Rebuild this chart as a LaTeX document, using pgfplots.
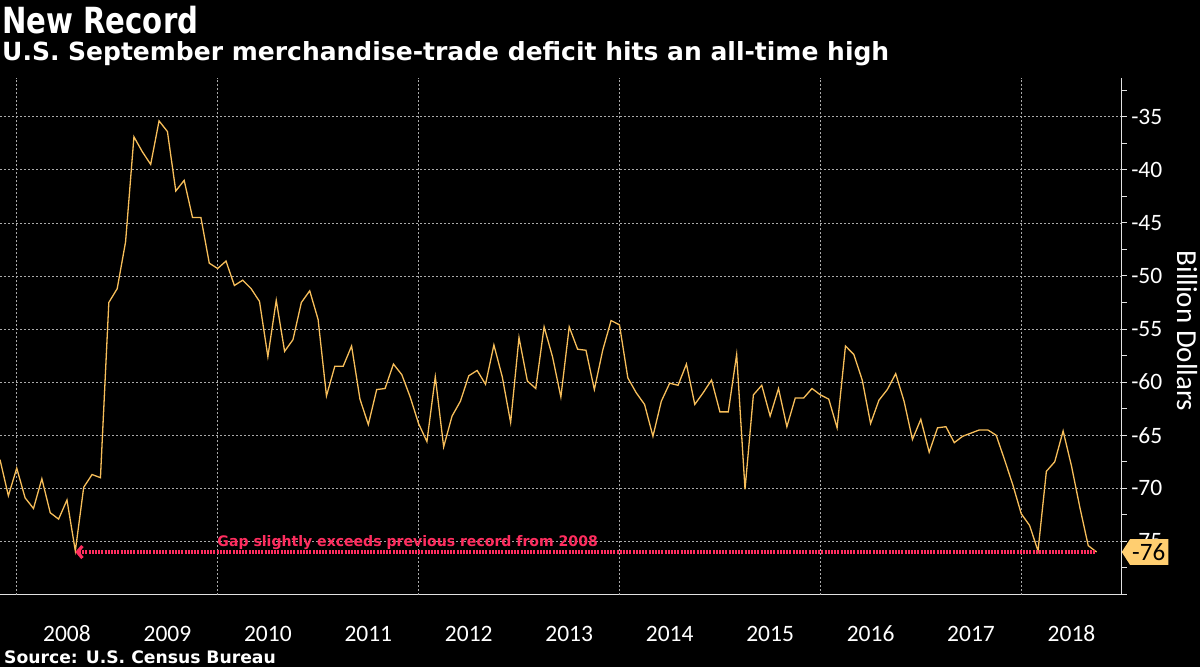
\documentclass[border=0pt]{standalone}
\usepackage{fontspec}
\usepackage{graphicx}
\usepackage{pgfplots}
\pgfplotsset{compat=1.18}
\usetikzlibrary{arrows.meta}
\setmainfont{DejaVu Sans}
\newfontfamily\tickfont{Carlito}
\definecolor{linecol}{RGB}{247,190,90}
\definecolor{redcol}{RGB}{255,45,95}
\definecolor{tagcol}{RGB}{255,206,112}
\definecolor{gridcol}{RGB}{170,170,170}
\definecolor{sepcol}{RGB}{225,225,225}
\begin{document}
\begin{tikzpicture}[x=1pt,y=1pt]
\useasboundingbox (0,0) rectangle (1200,667);
\fill[black] (0,0) rectangle (1200,667);
\begin{axis}[
  at={(0pt,72.5pt)}, anchor=south west,
  scale only axis, width=1121.7pt, height=516.5pt,
  xmin=-2, xmax=132, ymin=-80, ymax=-31.36,
  axis x line*=bottom, axis y line*=right,
  axis line style={sepcol, line width=1.2pt},
  xtick={6,18,...,126},
  xticklabels={2008,2009,2010,2011,2012,2013,2014,2015,2016,2017,2018},
  x tick style={draw=none},
  xticklabel style={font=\tickfont\fontsize{23.5}{23.5}\selectfont, text=white, anchor=base, yshift=-42pt},
  extra x ticks={0,24,...,120},
  extra x tick labels={},
  extra x tick style={grid=major, x tick style={draw=none}},
  ytick={-75,-70,...,-35},
  minor ytick={-80,-77.5,-72.5,-67.5,-62.5,-57.5,-52.5,-47.5,-42.5,-37.5,-32.5},
  tick align=outside,
  major tick length=5pt, minor tick length=5pt,
  y tick style={sepcol, line width=1pt},
  ymajorgrids,
  grid style={gridcol, line width=0.6pt, dash pattern=on 2pt off 2pt},
  yticklabel style={font=\tickfont\fontsize{23.5}{23.5}\selectfont, text=white, xshift=1pt},
  /pgf/number format/assume math mode=true,
]
\pgfplotsinvokeforeach{0,12,...,120}{\draw[sepcol, line width=0.8pt] (axis cs:#1,-80) -- ++(0pt,-53pt);}
\addplot[linecol, line width=1.3pt, no marks] coordinates {
(-2,-67.3) (-1,-70.7) (0,-68.1) (1,-70.9) (2,-71.9) (3,-69.1) (4,-72.3) (5,-72.9)
(6,-71.1) (7,-75.9) (8,-69.9) (9,-68.7) (10,-69.0) (11,-52.5) (12,-51.2) (13,-46.8)
(14,-36.9) (15,-38.3) (16,-39.5) (17,-35.4) (18,-36.4) (19,-42.0) (20,-41.0) (21,-44.5)
(22,-44.5) (23,-48.8) (24,-49.3) (25,-48.6) (26,-50.9) (27,-50.4) (28,-51.2) (29,-52.4)
(30,-57.6) (31,-52.3) (32,-57.1) (33,-56.0) (34,-52.5) (35,-51.4) (36,-54.1) (37,-61.3)
(38,-58.5) (39,-58.5) (40,-56.6) (41,-61.6) (42,-64.0) (43,-60.7) (44,-60.6) (45,-58.3)
(46,-59.3) (47,-61.4) (48,-63.9) (49,-65.6) (50,-59.5) (51,-66.1) (52,-63.2) (53,-61.8)
(54,-59.4) (55,-58.9) (56,-60.2) (57,-56.5) (58,-59.5) (59,-63.8) (60,-55.8) (61,-59.9)
(62,-60.6) (63,-54.8) (64,-57.6) (65,-61.4) (66,-54.8) (67,-56.9) (68,-57.0) (69,-60.7)
(70,-57.0) (71,-54.2) (72,-54.6) (73,-59.6) (74,-61.0) (75,-62.1) (76,-65.1) (77,-61.8)
(78,-60.1) (79,-60.3) (80,-58.3) (81,-62.1) (82,-61.0) (83,-59.8) (84,-62.8) (85,-62.8)
(86,-57.4) (87,-70.1) (88,-61.2) (89,-60.3) (90,-63.2) (91,-60.6) (92,-64.2) (93,-61.5)
(94,-61.5) (95,-60.6) (96,-61.2) (97,-61.6) (98,-64.3) (99,-56.6) (100,-57.4) (101,-59.8)
(102,-63.9) (103,-61.7) (104,-60.7) (105,-59.2) (106,-61.8) (107,-65.4) (108,-63.5) (109,-66.6)
(110,-64.3) (111,-64.2) (112,-65.7) (113,-65.1) (114,-64.8) (115,-64.5) (116,-64.5) (117,-65.0)
(118,-67.3) (119,-69.7) (120,-72.4) (121,-73.5) (122,-75.9) (123,-68.4) (124,-67.5) (125,-64.6)
(126,-67.9) (127,-71.8) (128,-75.4) (129,-76.0)
};
\addplot[redcol, line width=3.2pt, dash pattern=on 2pt off 1.2pt, no marks, {Straight Barb[length=5pt,width=12pt]}-] coordinates {(7,-76) (129,-76)};
\node[text=redcol, font=\bfseries\fontsize{14.5}{14.5}\selectfont, anchor=base] at (axis cs:46.7,-75.5) {\scalebox{0.97}[1]{Gap slightly exceeds previous record from 2008}};
\coordinate (tip) at (axis cs:132,-76);
\end{axis}
\fill[tagcol] (tip) -- ++(8.3,12.8) -- ++(38.3,0) -- ++(0,-25.6) -- ++(-38.3,0) -- cycle;
\node[font=\tickfont\fontsize{25}{25}\selectfont, text=black] at ([xshift=27pt]tip) {-76};
\node[rotate=-90, text=white, font=\tickfont\fontsize{29}{29}\selectfont] at (1187,336) {Billion Dollars};
\node[anchor=base west, inner sep=0, text=white, font=\bfseries\fontsize{36}{36}\selectfont] at (2,633.7) {\scalebox{0.81}[1]{New Record}};
\node[anchor=base west, inner sep=0, text=white, font=\bfseries\fontsize{25}{25}\selectfont] at (2,606) {\scalebox{1.0}[1]{U.S. September merchandise-trade deficit hits an all-time high}};
\node[anchor=base west, inner sep=0, text=white, font=\bfseries\fontsize{17.2}{17.2}\selectfont] at (4,3) {Source: U.S. Census Bureau};
\end{tikzpicture}
\end{document}
